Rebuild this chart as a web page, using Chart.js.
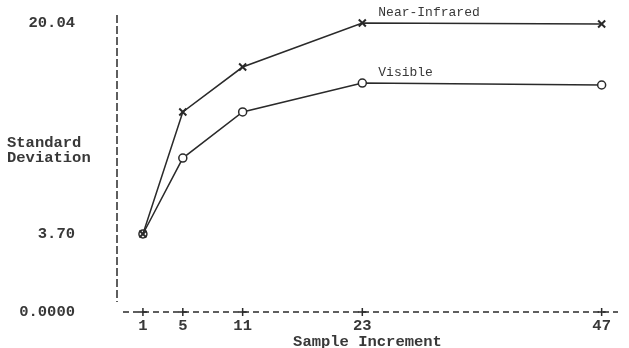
<!DOCTYPE html>
<html>
<head>
<meta charset="utf-8">
<script src="https://cdn.jsdelivr.net/npm/chart.js@4"></script>
<style>
  html, body { margin: 0; padding: 0; background: #fff; }
  #wrap { width: 629px; height: 348px; position: relative; }
</style>
</head>
<body>
<div id="wrap"><canvas id="chart"></canvas></div>
<script>
// sample increments on the x axis
const increments = [1, 5, 11, 23, 47];
// standard deviation per band
const nearInfrared = [3.70, 13.15, 16.63, 20.04, 19.96];
const visible = [3.70, 9.58, 13.15, 15.39, 15.24];
// y tick labels as printed
const yTickValues = [3.70, 20.04];
const yBottomLabel = "0.0000";

const MONO = '"Liberation Mono", "DejaVu Sans Mono", monospace';
const INK = "#2a2a2a";
const TEXT = "#383838";

const yMin = -2.34;
const yMax = 20.66;

// dashed axes, "+" marks, side label and series names
const printerAxes = {
    id: "printerAxes",
    afterDraw(chart) {
        const { ctx, chartArea, scales } = chart;
        const x = scales.x;
        ctx.save();
        ctx.strokeStyle = INK;
        ctx.lineWidth = 1.5;

        // y axis
        ctx.setLineDash([8, 3]);
        ctx.beginPath();
        ctx.moveTo(chartArea.left, chartArea.top);
        ctx.lineTo(chartArea.left, chartArea.bottom - 10);
        ctx.stroke();

        // x axis
        ctx.setLineDash([6, 4]);
        ctx.beginPath();
        ctx.moveTo(chartArea.left + 6, chartArea.bottom);
        ctx.lineTo(chartArea.right, chartArea.bottom);
        ctx.stroke();

        ctx.setLineDash([]);
        increments.forEach(v => {
            const px = x.getPixelForValue(v);
            ctx.beginPath();
            ctx.moveTo(px, chartArea.bottom - 4);
            ctx.lineTo(px, chartArea.bottom + 4);
            ctx.moveTo(px - 4, chartArea.bottom);
            ctx.lineTo(px + 4, chartArea.bottom);
            ctx.stroke();
        });

        ctx.fillStyle = TEXT;
        ctx.font = "bold 15.5px " + MONO;
        ctx.textAlign = "left";
        ctx.textBaseline = "middle";
        ctx.fillText("Standard", 7, 143);
        ctx.fillText("Deviation", 7, 158);

        // series names next to the 23 point
        ctx.font = "13px " + MONO;
        ctx.textBaseline = "alphabetic";
        const names = ["Near-Infrared", "Visible"];
        chart.data.datasets.forEach((ds, i) => {
            const pt = chart.getDatasetMeta(i).data[3];
            ctx.fillText(names[i], pt.x + 16, pt.y - 7);
        });
        ctx.restore();
    }
};

new Chart(document.getElementById("chart"), {
    type: "line",
    data: {
        datasets: [
            {
                label: "Near-Infrared",
                data: increments.map((x, i) => ({ x, y: nearInfrared[i] })),
                borderColor: INK,
                borderWidth: 1.5,
                pointStyle: "crossRot",
                pointRadius: 5,
                pointBorderWidth: 2,
                pointBorderColor: INK,
                tension: 0
            },
            {
                label: "Visible",
                data: increments.map((x, i) => ({ x, y: visible[i] })),
                borderColor: INK,
                borderWidth: 1.5,
                pointStyle: "circle",
                pointRadius: 4,
                pointBorderWidth: 1.5,
                pointBorderColor: INK,
                pointBackgroundColor: "#fff",
                tension: 0
            }
        ]
    },
    options: {
        responsive: true,
        maintainAspectRatio: false,
        animation: false,
        events: [],
        layout: { padding: { top: 15, right: 11, left: 0, bottom: 0 } },
        plugins: {
            legend: { display: false },
            tooltip: { enabled: false }
        },
        scales: {
            x: {
                type: "linear",
                min: -1.6,
                max: 48.64,
                grid: { display: false, drawTicks: false },
                border: { display: false },
                afterBuildTicks: s => { s.ticks = increments.map(v => ({ value: v })); },
                afterFit: s => {
                    s.height = 36;
                    s.paddingLeft = 0;
                    s.paddingRight = 0;
                },
                ticks: {
                    color: TEXT,
                    font: { family: MONO, size: 15.5, weight: "bold" },
                    padding: 5,
                    maxRotation: 0,
                    callback: v => String(v)
                },
                title: {
                    display: true,
                    text: "Sample Increment",
                    color: TEXT,
                    font: { family: MONO, size: 15.5, weight: "bold", lineHeight: 1 },
                    padding: { top: 0, bottom: -2 }
                }
            },
            y: {
                type: "linear",
                min: yMin,
                max: yMax,
                grid: { display: false, drawTicks: false },
                border: { display: false },
                afterBuildTicks: s => {
                    s.ticks = [{ value: yMin }].concat(yTickValues.map(v => ({ value: v })));
                },
                afterFit: s => {
                    s.width = 117;
                    s.paddingTop = 0;
                    s.paddingBottom = 0;
                },
                ticks: {
                    color: TEXT,
                    font: { family: MONO, size: 15.5, weight: "bold" },
                    padding: 42,
                    callback: v => (v === yMin ? yBottomLabel : v.toFixed(2))
                }
            }
        }
    },
    plugins: [printerAxes]
});
</script>
</body>
</html>
